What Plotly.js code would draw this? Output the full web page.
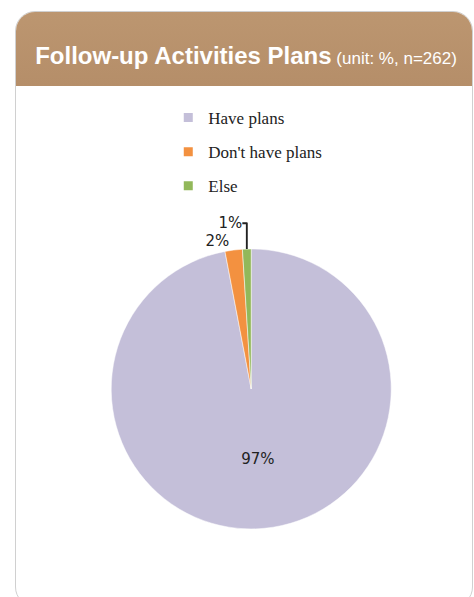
<!DOCTYPE html>
<html>
<head>
<meta charset="utf-8">
<script src="https://cdn.plot.ly/plotly-3.0.1.min.js"></script>
<style>
  html, body { margin: 0; padding: 0; background: #ffffff; }
  #wrap { position: relative; width: 474px; height: 597px; overflow: hidden; }
  #card { position: absolute; left: 15px; top: 11px; width: 456px; height: 594px;
          border: 1px solid #d0d0d0; border-radius: 20px; background: #ffffff; overflow: hidden; }
  #header { position: absolute; left: 0; top: 0; width: 100%; height: 74px;
            background: linear-gradient(#bc9670, #b58e69); }
  #chart { position: absolute; left: 0; top: 0; width: 474px; height: 597px; }
</style>
</head>
<body>
<div id="wrap">
  <div id="card"><div id="header"></div></div>
  <div id="chart"></div>
</div>
<script>
const categories = ["Have plans", "Don't have plans", "Else"];
const values = [97, 2, 1];
const colors = ["#c4bfd9", "#f39140", "#92b85a"];
const titleMain = "Follow-up Activities Plans";
const titleUnit = "(unit: %, n=262)";

const pie = {
  type: "pie",
  labels: categories,
  values: values,
  sort: false,
  direction: "clockwise",
  rotation: 0,
  showlegend: false,
  marker: { colors: colors, line: { color: "#ffffff", width: 0.5 } },
  textinfo: "percent",
  texttemplate: "%{percent:.0%}",
  textposition: ["inside", "outside", "outside"],
  insidetextorientation: "horizontal",
  textfont: { family: "DejaVu Sans", size: 15, color: "#222222" },
  outsidetextfont: { family: "DejaVu Sans", size: 15, color: "#222222" },
  domain: { x: [0.12, 0.94], y: [0.114, 0.583] },
  hoverinfo: "label+percent"
};

// legend entries, one per category, so that entries can be spaced like the reference
const legendTraces = categories.map((c, i) => ({
  type: "scatter",
  x: [null], y: [null],
  mode: "markers",
  name: c,
  legendgroup: "g" + i,
  marker: { symbol: "square", size: 9, color: colors[i] },
  hoverinfo: "skip",
  showlegend: true
}));

const layout = {
  width: 474,
  height: 597,
  margin: { l: 0, r: 0, t: 0, b: 0 },
  paper_bgcolor: "rgba(0,0,0,0)",
  plot_bgcolor: "rgba(0,0,0,0)",
  xaxis: { visible: false }, yaxis: { visible: false },
  title: {
    text: "<b>" + titleMain + "</b><span style='font-size:17px'> " + titleUnit + "</span>",
    font: { family: "Liberation Sans", size: 24, color: "#ffffff" },
    x: 0.519, xanchor: "center",
    y: 1 - 56 / 597, yanchor: "middle"
  },
  showlegend: true,
  legend: {
    x: 0.355, xanchor: "left",
    y: 1 - 100 / 597, yanchor: "top",
    traceorder: "grouped",
    tracegroupgap: 9,
    itemwidth: 30,
    font: { family: "Liberation Serif", size: 17, color: "#222222" },
    bgcolor: "rgba(0,0,0,0)"
  }
};

Plotly.newPlot("chart", [pie].concat(legendTraces), layout, { displayModeBar: false, staticPlot: true });
</script>
</body>
</html>
